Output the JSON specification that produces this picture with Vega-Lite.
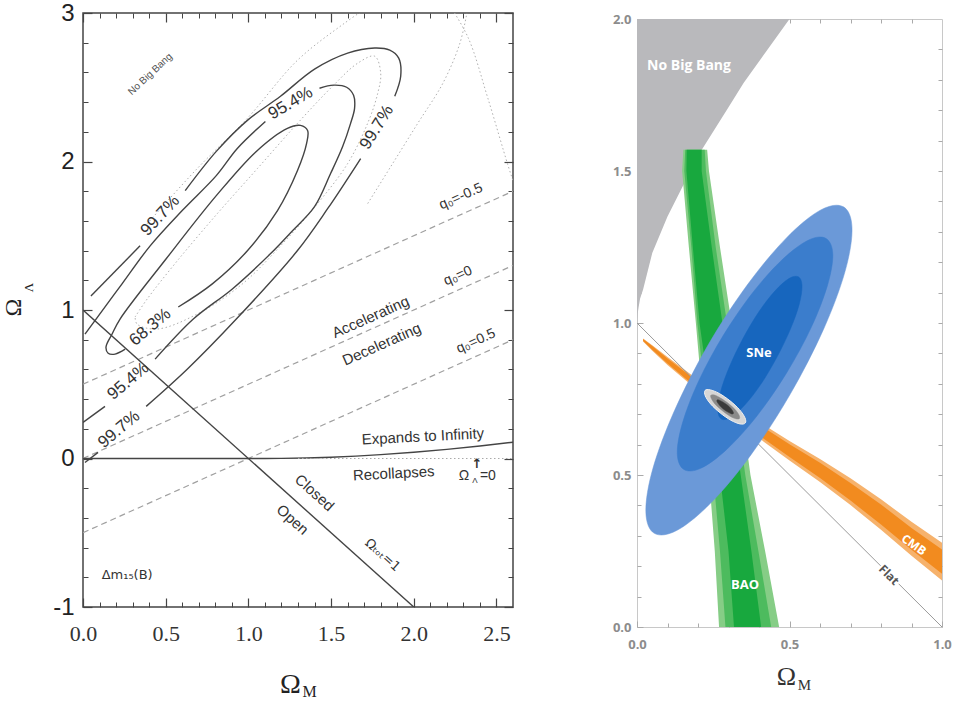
{
"$schema":"https://vega.github.io/schema/vega-lite/v6.json",
"background":"white",
"padding":{"left":0,"top":0,"right":0,"bottom":0},
"spacing":95,
"config":{"axis":{"labelFlush":false,"labelOverlap":false,"grid":false,"domain":false}},
"datasets":{
"contours":[
{"seg":"c68","i":0,"x":0.576,"y":1.020},{"seg":"c68","i":1,"x":0.782,"y":1.176},{"seg":"c68","i":2,"x":0.994,"y":1.399},{"seg":"c68","i":3,"x":1.176,"y":1.669},{"seg":"c68","i":4,"x":1.297,"y":1.939},{"seg":"c68","i":5,"x":1.352,"y":2.122},{"seg":"c68","i":6,"x":1.358,"y":2.209},{"seg":"c68","i":7,"x":1.315,"y":2.243},{"seg":"c68","i":8,"x":1.236,"y":2.223},{"seg":"c68","i":9,"x":1.048,"y":2.068},{"seg":"c68","i":10,"x":0.806,"y":1.770},{"seg":"c68","i":11,"x":0.503,"y":1.345},{"seg":"c68","i":12,"x":0.224,"y":0.939},{"seg":"c68","i":13,"x":0.176,"y":0.838},{"seg":"c68","i":14,"x":0.139,"y":0.750},{"seg":"c68","i":15,"x":0.152,"y":0.709},{"seg":"c68","i":16,"x":0.194,"y":0.703},{"seg":"c68","i":17,"x":0.255,"y":0.736},
{"seg":"c95a","i":0,"x":0,"y":0.243},{"seg":"c95a","i":1,"x":0.133,"y":0.351},
{"seg":"c95b","i":0,"x":0.436,"y":0.669},{"seg":"c95b","i":1,"x":0.667,"y":0.939},{"seg":"c95b","i":2,"x":0.903,"y":1.142},{"seg":"c95b","i":3,"x":1.133,"y":1.378},{"seg":"c95b","i":4,"x":1.267,"y":1.534},{"seg":"c95b","i":5,"x":1.400,"y":1.696},{"seg":"c95b","i":6,"x":1.497,"y":1.919},{"seg":"c95b","i":7,"x":1.570,"y":2.101},{"seg":"c95b","i":8,"x":1.618,"y":2.257},{"seg":"c95b","i":9,"x":1.642,"y":2.358},{"seg":"c95b","i":10,"x":1.636,"y":2.446},{"seg":"c95b","i":11,"x":1.594,"y":2.500},{"seg":"c95b","i":12,"x":1.515,"y":2.514},{"seg":"c95b","i":13,"x":1.430,"y":2.493},
{"seg":"c95c","i":0,"x":1.103,"y":2.270},{"seg":"c95c","i":1,"x":0.933,"y":2.088},{"seg":"c95c","i":2,"x":0.806,"y":1.905},{"seg":"c95c","i":3,"x":0.600,"y":1.670},{"seg":"c95c","i":4,"x":0.406,"y":1.432},{"seg":"c95c","i":5,"x":0.236,"y":1.176},{"seg":"c95c","i":6,"x":0.079,"y":0.939},{"seg":"c95c","i":7,"x":0.012,"y":0.838},
{"seg":"c99a","i":0,"x":0.012,"y":-0.027},{"seg":"c99a","i":1,"x":0.091,"y":0.041},
{"seg":"c99b","i":0,"x":0.382,"y":0.351},{"seg":"c99b","i":1,"x":0.630,"y":0.601},{"seg":"c99b","i":2,"x":0.927,"y":0.939},{"seg":"c99b","i":3,"x":1.291,"y":1.392},{"seg":"c99b","i":4,"x":1.479,"y":1.682},{"seg":"c99b","i":5,"x":1.679,"y":2.020},
{"seg":"c99c","i":0,"x":1.885,"y":2.439},{"seg":"c99c","i":1,"x":1.921,"y":2.574},{"seg":"c99c","i":2,"x":1.909,"y":2.696},{"seg":"c99c","i":3,"x":1.855,"y":2.750},{"seg":"c99c","i":4,"x":1.764,"y":2.764},{"seg":"c99c","i":5,"x":1.600,"y":2.730},{"seg":"c99c","i":6,"x":1.400,"y":2.622},{"seg":"c99c","i":7,"x":1.194,"y":2.439},{"seg":"c99c","i":8,"x":0.994,"y":2.277},{"seg":"c99c","i":9,"x":0.806,"y":2.068},{"seg":"c99c","i":10,"x":0.618,"y":1.804},
{"seg":"c99d","i":0,"x":0.345,"y":1.432},{"seg":"c99d","i":1,"x":0.048,"y":1.095}
],
"dotted":[
{"seg":"d1","i":0,"x":0.315,"y":0.953},{"seg":"d1","i":1,"x":0.388,"y":1.074},{"seg":"d1","i":2,"x":0.570,"y":1.331},{"seg":"d1","i":3,"x":0.812,"y":1.649},{"seg":"d1","i":4,"x":1.055,"y":1.953},{"seg":"d1","i":5,"x":1.297,"y":2.257},{"seg":"d1","i":6,"x":1.509,"y":2.507},{"seg":"d1","i":7,"x":1.661,"y":2.662},{"seg":"d1","i":8,"x":1.764,"y":2.709},{"seg":"d1","i":9,"x":1.800,"y":2.595},{"seg":"d1","i":10,"x":1.782,"y":2.459},{"seg":"d1","i":11,"x":1.721,"y":2.257},{"seg":"d1","i":12,"x":1.600,"y":1.986},{"seg":"d1","i":13,"x":1.418,"y":1.716},{"seg":"d1","i":14,"x":1.206,"y":1.446},{"seg":"d1","i":15,"x":0.964,"y":1.176},{"seg":"d1","i":16,"x":0.691,"y":0.973},{"seg":"d1","i":17,"x":0.448,"y":0.872},{"seg":"d1","i":18,"x":0.327,"y":0.905},{"seg":"d1","i":19,"x":0.315,"y":0.953},
{"seg":"d2","i":0,"x":0.388,"y":1.581},{"seg":"d2","i":1,"x":0.691,"y":1.953},{"seg":"d2","i":2,"x":0.994,"y":2.291},{"seg":"d2","i":3,"x":1.297,"y":2.682},{"seg":"d2","i":4,"x":1.582,"y":2.932},{"seg":"d2","i":5,"x":1.733,"y":3.047},
{"seg":"d3","i":0,"x":2.327,"y":3.034},{"seg":"d3","i":1,"x":2.279,"y":2.797},{"seg":"d3","i":2,"x":2.176,"y":2.527},{"seg":"d3","i":3,"x":2.024,"y":2.257},{"seg":"d3","i":4,"x":1.861,"y":1.966},{"seg":"d3","i":5,"x":1.721,"y":1.716},
{"seg":"d4","i":0,"x":2.220,"y":3.047},{"seg":"d4","i":1,"x":2.330,"y":2.831},{"seg":"d4","i":2,"x":2.448,"y":2.426},{"seg":"d4","i":3,"x":2.570,"y":1.973},{"seg":"d4","i":4,"x":2.606,"y":1.851}
],
"qlines":[
{"seg":"m","x":0,"y":0.5},{"seg":"m","x":2.6,"y":1.8},
{"seg":"z","x":0,"y":0},{"seg":"z","x":2.6,"y":1.3},
{"seg":"p","x":0,"y":-0.5},{"seg":"p","x":2.6,"y":0.8}
],
"sol":[
{"seg":"f","i":0,"x":0,"y":1},{"seg":"f","i":1,"x":2,"y":-1},
{"seg":"b","i":0,"x":0,"y":0},{"seg":"b","i":1,"x":1,"y":0},{"seg":"b","i":2,"x":1.1,"y":0.0001},{"seg":"b","i":3,"x":1.2,"y":0.0008},{"seg":"b","i":4,"x":1.35,"y":0.0036},{"seg":"b","i":5,"x":1.5,"y":0.0087},{"seg":"b","i":6,"x":1.65,"y":0.0161},{"seg":"b","i":7,"x":1.8,"y":0.0259},{"seg":"b","i":8,"x":2.0,"y":0.0419},{"seg":"b","i":9,"x":2.2,"y":0.0616},{"seg":"b","i":10,"x":2.4,"y":0.0843},{"seg":"b","i":11,"x":2.6,"y":0.1097}
],
"nbb":[
{"x":0,"y":1.0},{"x":0.002,"y":1.03},{"x":0.005,"y":1.05},{"x":0.01,"y":1.08},{"x":0.02,"y":1.11},{"x":0.05,"y":1.23},{"x":0.1,"y":1.35},{"x":0.15,"y":1.45},{"x":0.2,"y":1.55},{"x":0.25,"y":1.63},{"x":0.3,"y":1.71},{"x":0.35,"y":1.79},{"x":0.4,"y":1.86},{"x":0.45,"y":1.93},{"x":0.5,"y":2.0}
],
"baoL":[
{"y":1.57,"x1":0.152,"x2":0.230},{"y":1.5,"x1":0.148,"x2":0.236},{"y":1.25,"x1":0.170,"x2":0.272},{"y":1.0,"x1":0.193,"x2":0.310},{"y":0.75,"x1":0.215,"x2":0.338},{"y":0.5,"x1":0.236,"x2":0.372},{"y":0.25,"x1":0.255,"x2":0.420},{"y":0,"x1":0.269,"x2":0.466}
],
"baoM":[
{"y":1.57,"x1":0.158,"x2":0.222},{"y":1.5,"x1":0.155,"x2":0.226},{"y":1.25,"x1":0.178,"x2":0.258},{"y":1.0,"x1":0.198,"x2":0.295},{"y":0.75,"x1":0.225,"x2":0.322},{"y":0.5,"x1":0.250,"x2":0.355},{"y":0.25,"x1":0.272,"x2":0.398},{"y":0,"x1":0.290,"x2":0.440}
],
"baoD":[
{"y":1.57,"x1":0.163,"x2":0.212},{"y":1.5,"x1":0.162,"x2":0.212},{"y":1.25,"x1":0.183,"x2":0.245},{"y":1.0,"x1":0.205,"x2":0.280},{"y":0.75,"x1":0.240,"x2":0.305},{"y":0.5,"x1":0.272,"x2":0.340},{"y":0.25,"x1":0.300,"x2":0.375},{"y":0,"x1":0.318,"x2":0.407}
],
"cmbO":[
{"x":0.02,"y1":0.939,"y2":0.949},{"x":0.05,"y1":0.909,"y2":0.927},{"x":0.1,"y1":0.862,"y2":0.888},{"x":0.2,"y1":0.777,"y2":0.813},{"x":0.3,"y1":0.698,"y2":0.742},{"x":0.4,"y1":0.621,"y2":0.675},{"x":0.5,"y1":0.548,"y2":0.612},{"x":0.6,"y1":0.477,"y2":0.553},{"x":0.7,"y1":0.401,"y2":0.489},{"x":0.8,"y1":0.320,"y2":0.420},{"x":0.9,"y1":0.234,"y2":0.346},{"x":1.0,"y1":0.153,"y2":0.277}
],
"cmbI":[
{"x":0.02,"y1":0.941,"y2":0.947},{"x":0.05,"y1":0.912,"y2":0.924},{"x":0.1,"y1":0.867,"y2":0.883},{"x":0.2,"y1":0.783,"y2":0.807},{"x":0.3,"y1":0.706,"y2":0.734},{"x":0.4,"y1":0.630,"y2":0.666},{"x":0.5,"y1":0.559,"y2":0.601},{"x":0.6,"y1":0.490,"y2":0.540},{"x":0.7,"y1":0.416,"y2":0.474},{"x":0.8,"y1":0.337,"y2":0.403},{"x":0.9,"y1":0.254,"y2":0.326},{"x":1.0,"y1":0.175,"y2":0.255}
],
"flat":[{"x":0,"y":1},{"x":1,"y":0}],
"sneO":[
{"i":0,"x":0.677,"y":1.382},{"i":1,"x":0.601,"y":1.371},{"i":2,"x":0.490,"y":1.280},{"i":3,"x":0.360,"y":1.123},{"i":4,"x":0.231,"y":0.924},{"i":5,"x":0.123,"y":0.712},{"i":6,"x":0.052,"y":0.521},{"i":7,"x":0.029,"y":0.379},{"i":8,"x":0.057,"y":0.308},{"i":9,"x":0.133,"y":0.319},{"i":10,"x":0.244,"y":0.410},{"i":11,"x":0.374,"y":0.567},{"i":12,"x":0.503,"y":0.767},{"i":13,"x":0.611,"y":0.978},{"i":14,"x":0.682,"y":1.169},{"i":15,"x":0.705,"y":1.311}
],
"sneM":[
{"i":0,"x":0.620,"y":1.278},{"i":1,"x":0.563,"y":1.273},{"i":2,"x":0.479,"y":1.211},{"i":3,"x":0.381,"y":1.102},{"i":4,"x":0.284,"y":0.961},{"i":5,"x":0.203,"y":0.811},{"i":6,"x":0.150,"y":0.674},{"i":7,"x":0.132,"y":0.571},{"i":8,"x":0.154,"y":0.518},{"i":9,"x":0.211,"y":0.523},{"i":10,"x":0.295,"y":0.585},{"i":11,"x":0.393,"y":0.694},{"i":12,"x":0.490,"y":0.835},{"i":13,"x":0.571,"y":0.985},{"i":14,"x":0.624,"y":1.122},{"i":15,"x":0.642,"y":1.225}
],
"sneI":[
{"i":0,"x":0.529,"y":1.152},{"i":1,"x":0.498,"y":1.146},{"i":2,"x":0.452,"y":1.105},{"i":3,"x":0.399,"y":1.036},{"i":4,"x":0.347,"y":0.948},{"i":5,"x":0.303,"y":0.856},{"i":6,"x":0.274,"y":0.774},{"i":7,"x":0.265,"y":0.713},{"i":8,"x":0.277,"y":0.684},{"i":9,"x":0.308,"y":0.690},{"i":10,"x":0.354,"y":0.731},{"i":11,"x":0.407,"y":0.800},{"i":12,"x":0.459,"y":0.888},{"i":13,"x":0.503,"y":0.980},{"i":14,"x":0.532,"y":1.062},{"i":15,"x":0.541,"y":1.123}
],
"cO":[
{"i":0,"x":0.355,"y":0.671},{"i":1,"x":0.354,"y":0.688},{"i":2,"x":0.336,"y":0.715},{"i":3,"x":0.305,"y":0.744},{"i":4,"x":0.270,"y":0.768},{"i":5,"x":0.240,"y":0.780},{"i":6,"x":0.223,"y":0.778},{"i":7,"x":0.224,"y":0.760},{"i":8,"x":0.242,"y":0.733},{"i":9,"x":0.273,"y":0.704},{"i":10,"x":0.308,"y":0.680},{"i":11,"x":0.338,"y":0.668}
],
"cM":[
{"i":0,"x":0.336,"y":0.686},{"i":1,"x":0.334,"y":0.698},{"i":2,"x":0.321,"y":0.716},{"i":3,"x":0.299,"y":0.736},{"i":4,"x":0.274,"y":0.753},{"i":5,"x":0.254,"y":0.763},{"i":6,"x":0.242,"y":0.762},{"i":7,"x":0.244,"y":0.751},{"i":8,"x":0.257,"y":0.732},{"i":9,"x":0.279,"y":0.712},{"i":10,"x":0.304,"y":0.694},{"i":11,"x":0.324,"y":0.685}
],
"cI":[
{"i":0,"x":0.316,"y":0.702},{"i":1,"x":0.315,"y":0.708},{"i":2,"x":0.308,"y":0.719},{"i":3,"x":0.295,"y":0.731},{"i":4,"x":0.280,"y":0.741},{"i":5,"x":0.268,"y":0.747},{"i":6,"x":0.262,"y":0.746},{"i":7,"x":0.263,"y":0.740},{"i":8,"x":0.271,"y":0.729},{"i":9,"x":0.283,"y":0.717},{"i":10,"x":0.298,"y":0.707},{"i":11,"x":0.310,"y":0.701}
]
},
"hconcat":[
{
"width":430,"height":594,
"view":{"stroke":"#444","strokeWidth":1.5},
"encoding":{
"x":{"field":"x","type":"quantitative","scale":{"domain":[0,2.6],"nice":false,"zero":false},"axis":null},
"y":{"field":"y","type":"quantitative","scale":{"domain":[-1,3],"nice":false,"zero":false},"axis":null}
},
"layer":[
{"data":{"name":"qlines"},"mark":{"type":"line","color":"#a0a0a0","strokeWidth":1.2,"strokeDash":[6,4],"clip":true},
"encoding":{
"x":{"field":"x","type":"quantitative","scale":{"domain":[0,2.6],"nice":false,"zero":false},"axis":{"orient":"top","values":[0,0.5,1,1.5,2,2.5],"tickSize":-9,"tickColor":"#444","tickWidth":1.2,"labels":false,"title":null}},
"y":{"field":"y","type":"quantitative","scale":{"domain":[-1,3],"nice":false,"zero":false},"axis":{"orient":"right","values":[-1,0,1,2,3],"tickSize":-9,"tickColor":"#444","tickWidth":1.2,"labels":false,"title":null}},
"detail":{"field":"seg"}}},
{"data":{"name":"dotted"},"mark":{"type":"line","interpolate":"catmull-rom","color":"#b0b0b0","strokeWidth":1,"strokeDash":[1.5,2.5],"clip":true},
"encoding":{
"x":{"field":"x","type":"quantitative","scale":{"domain":[0,2.6],"nice":false,"zero":false},"axis":{"orient":"bottom","values":[0.1,0.2,0.3,0.4,0.6,0.7,0.8,0.9,1.1,1.2,1.3,1.4,1.6,1.7,1.8,1.9,2.1,2.2,2.3,2.4],"tickSize":-5,"tickColor":"#444","tickWidth":1,"labels":false,"title":"M","titleFont":"Liberation Serif","titleFontSize":16,"titleFontWeight":"normal","titleColor":"#222","titleX":226,"titleY":84,"titleAlign":"center","titleBaseline":"middle"}},
"y":{"field":"y","type":"quantitative","scale":{"domain":[-1,3],"nice":false,"zero":false},"axis":{"orient":"left","values":[-0.8,-0.6,-0.4,-0.2,0.2,0.4,0.6,0.8,1.2,1.4,1.6,1.8,2.2,2.4,2.6,2.8],"tickSize":-5,"tickColor":"#444","tickWidth":1,"labels":false,"title":"Λ","titleFont":"Liberation Serif","titleFontSize":13,"titleFontWeight":"normal","titleColor":"#222","titleX":-55,"titleY":274,"titleAngle":-90,"titleAlign":"center","titleBaseline":"middle"}},
"detail":{"field":"seg"},"order":{"field":"i"}}},
{"data":{"name":"contours"},"mark":{"type":"line","interpolate":"catmull-rom","color":"#444","strokeWidth":1.4,"clip":true},
"encoding":{
"x":{"field":"x","type":"quantitative","scale":{"domain":[0,2.6],"nice":false,"zero":false},"axis":{"orient":"bottom","values":[0,0.5,1,1.5,2,2.5],"format":".1f","tickSize":-9,"tickColor":"#444","tickWidth":1.2,"labelFont":"Liberation Serif","labelFontSize":22,"labelColor":"#333","labelPadding":25,"title":"Ω","titleFont":"Liberation Serif","titleFontSize":28,"titleFontWeight":"normal","titleColor":"#222","titleX":207,"titleY":77,"titleAlign":"center","titleBaseline":"middle","titleAngle":0}},
"y":{"field":"y","type":"quantitative","scale":{"domain":[-1,3],"nice":false,"zero":false},"axis":{"orient":"left","values":[-1,0,1,2,3],"labelExpr":"'' + datum.value","tickSize":-9,"tickColor":"#444","tickWidth":1.2,"labelFont":"Liberation Sans","labelFontSize":24,"labelColor":"#222","labelPadding":18,"title":"Ω","titleFont":"Liberation Serif","titleFontSize":24,"titleFontWeight":"normal","titleColor":"#222","titleX":-70,"titleY":294,"titleAngle":-90,"titleAlign":"center","titleBaseline":"middle"}},
"detail":{"field":"seg"},"order":{"field":"i"}}},
{"data":{"name":"sol"},"mark":{"type":"line","color":"#444","strokeWidth":1.4,"clip":true},
"encoding":{
"x":{"field":"x","type":"quantitative","scale":{"domain":[0,2.6],"nice":false,"zero":false},"axis":{"orient":"top","values":[0.1,0.2,0.3,0.4,0.6,0.7,0.8,0.9,1.1,1.2,1.3,1.4,1.6,1.7,1.8,1.9,2.1,2.2,2.3,2.4],"tickSize":-5,"tickColor":"#444","tickWidth":1,"labels":false,"title":null}},
"y":{"field":"y","type":"quantitative","scale":{"domain":[-1,3],"nice":false,"zero":false},"axis":{"orient":"right","values":[-0.8,-0.6,-0.4,-0.2,0.2,0.4,0.6,0.8,1.2,1.4,1.6,1.8,2.2,2.4,2.6,2.8],"tickSize":-5,"tickColor":"#444","tickWidth":1,"labels":false,"title":null}},
"detail":{"field":"seg"},"order":{"field":"i"}}},
{"data":{"values":[{"x":1.3,"y":0},{"x":2.6,"y":0}]},"mark":{"type":"line","color":"#aaaaaa","strokeWidth":1,"strokeDash":[1.5,2.5]},"encoding":{}},
{"data":{"values":[{"x":1.255,"y":2.392,"t":"95.4%"}]},"mark":{"type":"text","angle":-30,"fontSize":17,"font":"Liberation Sans","color":"#333"},"encoding":{"text":{"field":"t"}}},
{"data":{"values":[{"x":0.467,"y":1.635,"t":"99.7%"}]},"mark":{"type":"text","angle":-47,"fontSize":17,"font":"Liberation Sans","color":"#333"},"encoding":{"text":{"field":"t"}}},
{"data":{"values":[{"x":1.776,"y":2.23,"t":"99.7%"}]},"mark":{"type":"text","angle":-58,"fontSize":17,"font":"Liberation Sans","color":"#333"},"encoding":{"text":{"field":"t"}}},
{"data":{"values":[{"x":0.406,"y":0.885,"t":"68.3%"},{"x":0.273,"y":0.520,"t":"95.4%"},{"x":0.218,"y":0.196,"t":"99.7%"}]},"mark":{"type":"text","angle":-40,"fontSize":17,"font":"Liberation Sans","color":"#333"},"encoding":{"text":{"field":"t"}}},
{"data":{"values":[{"x":2.285,"y":1.764,"t":"q₀=-0.5"},{"x":2.267,"y":1.23,"t":"q₀=0"},{"x":2.376,"y":0.79,"t":"q₀=0.5"}]},"mark":{"type":"text","angle":-24,"fontSize":14,"font":"Liberation Sans","color":"#333"},"encoding":{"text":{"field":"t"}}},
{"data":{"values":[{"x":1.739,"y":0.953,"t":"Accelerating"},{"x":1.806,"y":0.770,"t":"Decelerating"}]},"mark":{"type":"text","angle":-24,"fontSize":15,"font":"Liberation Sans","color":"#333"},"encoding":{"text":{"field":"t"}}},
{"data":{"values":[{"x":2.055,"y":0.149,"t":"Expands to Infinity"},{"x":1.879,"y":-0.10,"t":"Recollapses"}]},"mark":{"type":"text","angle":-3,"fontSize":15,"font":"Liberation Sans","color":"#333"},"encoding":{"text":{"field":"t"}}},
{"data":{"values":[{"x":1.4,"y":-0.23,"t":"Closed"},{"x":1.267,"y":-0.412,"t":"Open"}]},"mark":{"type":"text","angle":42,"fontSize":15,"font":"Liberation Sans","color":"#333"},"encoding":{"text":{"field":"t"}}},
{"data":{"values":[{"x":1.812,"y":-0.65,"t":"Ωₜₒₜ=1"}]},"mark":{"type":"text","angle":42,"fontSize":13,"font":"DejaVu Sans","color":"#333"},"encoding":{"text":{"field":"t"}}},
{"data":{"values":[{"x":0.267,"y":-0.784,"t":"Δm₁₅(B)"}]},"mark":{"type":"text","fontSize":13,"font":"DejaVu Sans","color":"#333"},"encoding":{"text":{"field":"t"}}},
{"data":{"values":[{"x":2.303,"y":-0.115,"t":"Ω"},{"x":2.448,"y":-0.115,"t":"=0"}]},"mark":{"type":"text","fontSize":14,"font":"Liberation Sans","color":"#333"},"encoding":{"text":{"field":"t"}}},
{"data":{"values":[{"x":2.37,"y":-0.15,"t":"Λ"}]},"mark":{"type":"text","fontSize":8,"font":"Liberation Sans","color":"#333"},"encoding":{"text":{"field":"t"}}},
{"data":{"values":[{"x":2.382,"y":-0.04,"t":"↑"}]},"mark":{"type":"text","fontSize":13,"fontWeight":"bold","font":"DejaVu Sans","color":"#333"},"encoding":{"text":{"field":"t"}}},
{"data":{"values":[{"x":0.406,"y":2.588,"t":"No Big Bang"}]},"mark":{"type":"text","angle":-43,"fontSize":10,"font":"Liberation Sans","color":"#555"},"encoding":{"text":{"field":"t"}}}
],
"resolve":{"axis":{"x":"independent","y":"independent"}}
},
{
"spacing":-7,
"vconcat":[
{"width":305,"height":1,"view":{"stroke":null},"data":{"values":[{"t":""}]},"mark":{"type":"text","text":""},"encoding":{}},
{
"width":305,"height":608,
"view":{"stroke":"#c8c8c8","strokeWidth":1},
"encoding":{
"x":{"field":"x","type":"quantitative","scale":{"domain":[0,1],"nice":false,"zero":false},"axis":null},
"y":{"field":"y","type":"quantitative","scale":{"domain":[0,2],"nice":false,"zero":false},"axis":null}
},
"layer":[
{"data":{"name":"nbb"},"mark":{"type":"area","color":"#b9b9bc","clip":true},
"encoding":{
"x":{"field":"x","type":"quantitative","scale":{"domain":[0,1],"nice":false,"zero":false},"axis":{"orient":"bottom","values":[0,0.5,1],"format":".1f","tickSize":-6,"tickColor":"#aaaaaa","labelFont":"Open Sans","labelFontWeight":"bold","labelFontSize":13,"labelColor":"#8c8c8c","labelPadding":17,"title":"Ω","titleFont":"Liberation Serif","titleFontSize":26,"titleFontWeight":"normal","titleColor":"#333","titleX":149,"titleY":49,"titleAlign":"center","titleBaseline":"middle","titleAngle":0}},
"y":{"field":"y","type":"quantitative","scale":{"domain":[0,2],"nice":false,"zero":false},"axis":{"orient":"left","values":[0,0.5,1,1.5,2],"format":".1f","tickSize":-6,"tickColor":"#aaaaaa","labelFont":"Open Sans","labelFontWeight":"bold","labelFontSize":13,"labelColor":"#8c8c8c","labelPadding":12,"title":null}},
"y2":{"datum":2}}},
{"data":{"name":"baoL"},"mark":{"type":"area","orient":"horizontal","color":"#86cd86","clip":true},
"encoding":{
"x":{"field":"x1","type":"quantitative","scale":{"domain":[0,1],"nice":false,"zero":false},"axis":{"orient":"bottom","values":[0.1,0.2,0.3,0.4,0.6,0.7,0.8,0.9],"tickSize":-4,"tickColor":"#aaaaaa","labels":false,"title":"M","titleFont":"Liberation Serif","titleFontSize":15,"titleFontWeight":"normal","titleColor":"#333","titleX":167,"titleY":57,"titleAlign":"center","titleBaseline":"middle"}},
"x2":{"field":"x2"},
"y":{"field":"y","type":"quantitative","scale":{"domain":[0,2],"nice":false,"zero":false},"axis":{"orient":"left","values":[0.1,0.2,0.3,0.4,0.6,0.7,0.8,0.9,1.1,1.2,1.3,1.4,1.6,1.7,1.8,1.9],"tickSize":-4,"tickColor":"#aaaaaa","labels":false,"title":null}}}},
{"data":{"name":"baoM"},"mark":{"type":"area","orient":"horizontal","color":"#4dbb5e","clip":true},
"encoding":{"x":{"field":"x1","type":"quantitative","scale":{"domain":[0,1],"nice":false,"zero":false},"axis":null},"x2":{"field":"x2"}}},
{"data":{"name":"baoD"},"mark":{"type":"area","orient":"horizontal","color":"#18a83e","clip":true},
"encoding":{"x":{"field":"x1","type":"quantitative","scale":{"domain":[0,1],"nice":false,"zero":false},"axis":null},"x2":{"field":"x2"}}},
{"data":{"name":"cmbO"},"mark":{"type":"area","color":"#f6b26c","clip":true},
"encoding":{"y":{"field":"y1","type":"quantitative","scale":{"domain":[0,2],"nice":false,"zero":false},"axis":null},"y2":{"field":"y2"}}},
{"data":{"name":"cmbI"},"mark":{"type":"area","color":"#f28b1f","clip":true},
"encoding":{"y":{"field":"y1","type":"quantitative","scale":{"domain":[0,2],"nice":false,"zero":false},"axis":null},"y2":{"field":"y2"}}},
{"data":{"name":"flat"},"mark":{"type":"line","color":"#9a9a9a","strokeWidth":1,"clip":true},
"encoding":{
"x":{"field":"x","type":"quantitative","scale":{"domain":[0,1],"nice":false,"zero":false},"axis":{"orient":"top","values":[0.1,0.2,0.3,0.4,0.5,0.6,0.7,0.8,0.9],"tickSize":-4,"tickColor":"#aaaaaa","labels":false,"title":null}},
"y":{"field":"y","type":"quantitative","scale":{"domain":[0,2],"nice":false,"zero":false},"axis":{"orient":"right","values":[0.1,0.2,0.3,0.4,0.5,0.6,0.7,0.8,0.9,1,1.1,1.2,1.3,1.4,1.5,1.6,1.7,1.8,1.9],"tickSize":-4,"tickColor":"#aaaaaa","labels":false,"title":null}}}},
{"data":{"name":"sneO"},"mark":{"type":"line","interpolate":"cardinal-closed","fill":"#6b99d8","stroke":"#6b99d8","strokeWidth":0.5},"encoding":{"order":{"field":"i"}}},
{"data":{"name":"sneM"},"mark":{"type":"line","interpolate":"cardinal-closed","fill":"#3b7dcc","stroke":"#3b7dcc","strokeWidth":0.5},"encoding":{"order":{"field":"i"}}},
{"data":{"name":"sneI"},"mark":{"type":"line","interpolate":"cardinal-closed","fill":"#1766be","stroke":"#1766be","strokeWidth":0.5},"encoding":{"order":{"field":"i"}}},
{"data":{"name":"cO"},"mark":{"type":"line","interpolate":"cardinal-closed","fill":"#d6d6d6","stroke":"#f0f0f0","strokeWidth":1},"encoding":{"order":{"field":"i"}}},
{"data":{"name":"cM"},"mark":{"type":"line","interpolate":"cardinal-closed","fill":"#8a8a8a","stroke":"#8a8a8a","strokeWidth":0.5},"encoding":{"order":{"field":"i"}}},
{"data":{"name":"cI"},"mark":{"type":"line","interpolate":"cardinal-closed","fill":"#3a3a3a","stroke":"#3a3a3a","strokeWidth":0.5},"encoding":{"order":{"field":"i"}}},
{"data":{"values":[{"x":0.033,"y":1.845,"t":"No Big Bang"}]},"mark":{"type":"text","align":"left","fontSize":14,"fontWeight":"bold","font":"Open Sans","color":"#ffffff"},"encoding":{"text":{"field":"t"}}},
{"data":{"values":[{"x":0.400,"y":0.901,"t":"SNe"},{"x":0.354,"y":0.138,"t":"BAO"}]},"mark":{"type":"text","fontSize":13,"fontWeight":"bold","font":"Open Sans","color":"#ffffff"},"encoding":{"text":{"field":"t"}}},
{"data":{"values":[{"x":0.908,"y":0.270,"t":"CMB"}]},"mark":{"type":"text","angle":35,"fontSize":12,"fontWeight":"bold","font":"Open Sans","color":"#ffffff"},"encoding":{"text":{"field":"t"}}},
{"data":{"values":[{"x":0.826,"y":0.171,"t":"Flat"}]},"mark":{"type":"text","angle":45,"fontSize":12,"fontWeight":"bold","font":"Open Sans","color":"#ffffff","stroke":"#ffffff","strokeWidth":4},"encoding":{"text":{"field":"t"}}},
{"data":{"values":[{"x":0.826,"y":0.171,"t":"Flat"}]},"mark":{"type":"text","angle":45,"fontSize":12,"fontWeight":"bold","font":"Open Sans","color":"#555555"},"encoding":{"text":{"field":"t"}}}
],
"resolve":{"axis":{"x":"independent","y":"independent"}}
}
]
}
]
}
